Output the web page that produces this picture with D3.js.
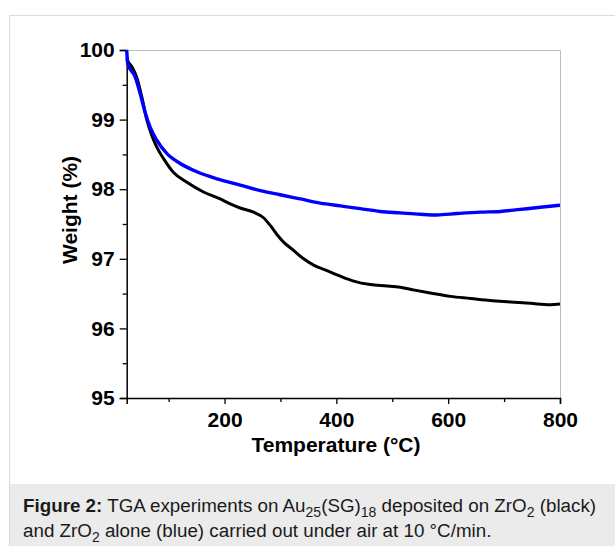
<!DOCTYPE html>
<html>
<head>
<meta charset="utf-8">
<script src="https://cdn.jsdelivr.net/npm/d3@7"></script>
<style>
  html, body { margin: 0; padding: 0; background: #fff; }
  svg { display: block; }
  text { font-family: Arial, "Liberation Sans", Helvetica, sans-serif; }
</style>
</head>
<body>
<svg id="chart" width="615" height="546"></svg>
<script>
// ---- data ----
const blueTemps = [25, 27, 40.3, 49.2, 58.1, 67.1, 79.1, 97, 120.7, 150.6, 186.4, 228, 263.9, 299.6, 335.4, 371.2, 407, 442.8, 478.5, 514.3, 550.1, 579.9, 615.7, 657.4, 693.2, 729, 764.8, 800];
const blueWeights = [100, 99.8, 99.61, 99.37, 99.10, 98.89, 98.70, 98.51, 98.37, 98.25, 98.15, 98.06, 97.98, 97.92, 97.86, 97.80, 97.76, 97.72, 97.68, 97.66, 97.64, 97.63, 97.65, 97.67, 97.68, 97.71, 97.74, 97.77];

const blackTemps = [25, 27, 34.3, 43.3, 52.2, 61.2, 70.1, 79.1, 90.9, 108.8, 132.7, 162.4, 192.3, 210.2, 228, 251.9, 269.8, 281.7, 293.7, 305.6, 323.5, 341.4, 359.3, 383.2, 407, 430.9, 460.7, 490.6, 514.3, 540, 568, 604, 640, 675.5, 711.3, 747.1, 782.9, 800];
const blackWeights = [99.88, 99.84, 99.76, 99.6, 99.32, 98.99, 98.77, 98.60, 98.44, 98.24, 98.10, 97.96, 97.86, 97.79, 97.73, 97.67, 97.59, 97.48, 97.35, 97.24, 97.12, 97.00, 96.91, 96.83, 96.75, 96.68, 96.63, 96.61, 96.59, 96.55, 96.51, 96.46, 96.43, 96.40, 96.38, 96.36, 96.34, 96.35];

const xMajorTicks = [200, 400, 600, 800];
const xMinorTicks = [100, 300, 500, 700];
const yMajorTicks = [95, 96, 97, 98, 99, 100];
const yMinorTicks = [95.5, 96.5, 97.5, 98.5, 99.5];

const xTitle = "Temperature (°C)";
const yTitle = "Weight (%)";

// ---- drawing ----
const svg = d3.select("#chart");
const FONT = "Arial, 'Liberation Sans', sans-serif";

// outer frame & caption box
svg.append("rect").attr("x", 9.5).attr("y", 15.5).attr("width", 620).attr("height", 540)
  .attr("fill", "#fff").attr("stroke", "#dcdcdc").attr("stroke-width", 1);
svg.append("rect").attr("x", 10).attr("y", 484).attr("width", 610).attr("height", 70)
  .attr("fill", "#ebebeb");

const x = d3.scaleLinear().domain([25, 800]).range([126.7, 560]);
const y = d3.scaleLinear().domain([95, 100]).range([398, 50]);

// plot frame (top & right, light gray)
svg.append("path")
  .attr("d", `M${x(25)},${y(100)+0.5}H${x(800)+0.5}V${y(95)}`)
  .attr("fill", "none").attr("stroke", "#bdbdbd").attr("stroke-width", 1);

// axes
svg.append("g").attr("transform", `translate(${x(25)},0)`)
  .call(d3.axisLeft(y).tickValues(yMajorTicks).tickFormat(d3.format("d")).tickSize(7).tickPadding(5));
svg.append("g").attr("transform", `translate(${x(25)},0)`)
  .call(d3.axisLeft(y).tickValues(yMinorTicks).tickFormat("").tickSize(4))
  .select(".domain").remove();

svg.append("g").attr("transform", `translate(0,${y(95)})`)
  .call(d3.axisBottom(x).tickValues(xMajorTicks).tickFormat(d3.format("d")).tickSize(6).tickPadding(8));
svg.append("g").attr("transform", `translate(0,${y(95)})`)
  .call(d3.axisBottom(x).tickValues(xMinorTicks).tickFormat("").tickSize(4))
  .select(".domain").remove();

svg.selectAll(".domain").attr("stroke", "#000").attr("stroke-width", 1.5);
svg.selectAll(".tick line").attr("stroke", "#000").attr("stroke-width", 1.3);
svg.selectAll(".tick text").style("font", `bold 21px ${FONT}`).attr("fill", "#000");

// titles
svg.append("text").attr("x", 336).attr("y", 452).attr("text-anchor", "middle")
  .style("font", `bold 21px ${FONT}`).text(xTitle);
svg.append("text").attr("transform", "translate(77,210) rotate(-90)").attr("text-anchor", "middle")
  .style("font", `bold 21px ${FONT}`).text(yTitle);

// lines
const line = d3.line().x(d => x(d[0])).y(d => y(d[1])).curve(d3.curveMonotoneX);
const blackData = blackTemps.map((t, i) => [t, blackWeights[i]]);
const blueData = blueTemps.map((t, i) => [t, blueWeights[i]]);

svg.append("path").datum(blackData).attr("d", line)
  .attr("fill", "none").attr("stroke", "#000").attr("stroke-width", 3).attr("stroke-linejoin", "round");
svg.append("path").datum(blueData).attr("d", line)
  .attr("fill", "none").attr("stroke", "#0000ff").attr("stroke-width", 3.4).attr("stroke-linejoin", "round");

// caption
const capFont = `18.8px ${FONT}`;
const cap = svg.append("text").attr("x", 23).attr("y", 512)
  .style("font", capFont).attr("fill", "#1a1a1a");
cap.append("tspan").style("font-weight", "bold").text("Figure 2:");
cap.append("tspan").text(" TGA experiments on Au");
cap.append("tspan").attr("dy", 5).style("font-size", "14px").text("25");
cap.append("tspan").attr("dy", -5).text("(SG)");
cap.append("tspan").attr("dy", 5).style("font-size", "14px").text("18");
cap.append("tspan").attr("dy", -5).text(" deposited on ZrO");
cap.append("tspan").attr("dy", 5).style("font-size", "14px").text("2");
cap.append("tspan").attr("dy", -5).text(" (black)");

const cap2 = svg.append("text").attr("x", 23).attr("y", 537)
  .style("font", capFont).attr("fill", "#1a1a1a");
cap2.append("tspan").text("and ZrO");
cap2.append("tspan").attr("dy", 5).style("font-size", "14px").text("2");
cap2.append("tspan").attr("dy", -5).text(" alone (blue) carried out under air at 10 °C/min.");
</script>
</body>
</html>
